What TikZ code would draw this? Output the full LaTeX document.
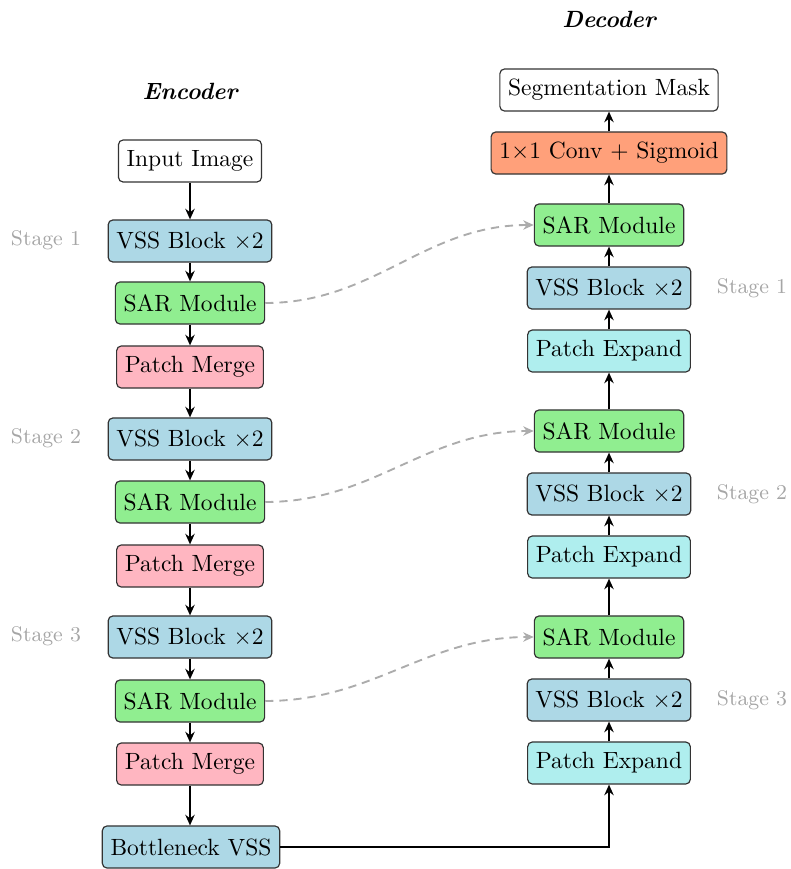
\documentclass[tikz,border=0pt]{standalone}
\usetikzlibrary{arrows.meta}
\definecolor{vsscol}{HTML}{ADD8E6}
\definecolor{sarcol}{HTML}{90EE90}
\definecolor{mergecol}{HTML}{FFB6C1}
\definecolor{expandcol}{HTML}{AFEEEE}
\definecolor{convcol}{HTML}{FFA07A}
\tikzset{
  blk/.style={draw=black!80, line width=0.5pt, rounded corners=2pt, minimum height=17.9pt, inner xsep=3.5pt, font=\normalsize},
  vss/.style={blk, fill=vsscol},
  sar/.style={blk, fill=sarcol},
  merge/.style={blk, fill=mergecol},
  expand/.style={blk, fill=expandcol},
  conv/.style={blk, fill=convcol},
  plain/.style={blk, fill=white},
  flow/.style={-{Stealth[length=4.5pt,width=4pt]}, line width=0.9pt},
  skip/.style={-{Stealth[length=4.5pt,width=4pt]}, line width=0.8pt, gray!65, dash pattern=on 3.5pt off 2.5pt},
  stagelbl/.style={text=gray!70, font=\small},
  title/.style={font=\bfseries\itshape}
}
\begin{document}
\begin{tikzpicture}[x=0.42553pt, y=-0.42553pt]
\useasboundingbox (0,0) rectangle (790,869);
% titles
\node[title] (enct) at (190,91) {Encoder};
\node[title] (dect) at (609,19) {Decoder};
% encoder
\node[plain] (in) at (190,161) {Input Image};
\node[vss] (e1v) at (190,241) {VSS Block $\times$2};
\node[sar] (e1s) at (190,303) {SAR Module};
\node[merge] (e1m) at (190,367) {Patch Merge};
\node[vss] (e2v) at (190,439) {VSS Block $\times$2};
\node[sar] (e2s) at (190,502) {SAR Module};
\node[merge] (e2m) at (190,566) {Patch Merge};
\node[vss] (e3v) at (190,637) {VSS Block $\times$2};
\node[sar] (e3s) at (190,701) {SAR Module};
\node[merge] (e3m) at (190,764) {Patch Merge};
\node[vss] (bn) at (191,847) {Bottleneck VSS};
% decoder
\node[plain] (out) at (609,90) {Segmentation Mask};
\node[conv] (conv) at (609,153) {1$\times$1 Conv + Sigmoid};
\node[sar] (d1s) at (609,225) {SAR Module};
\node[vss] (d1v) at (609,288) {VSS Block $\times$2};
\node[expand] (d1e) at (609,351) {Patch Expand};
\node[sar] (d2s) at (609,431) {SAR Module};
\node[vss] (d2v) at (609,494) {VSS Block $\times$2};
\node[expand] (d2e) at (609,557) {Patch Expand};
\node[sar] (d3s) at (609,637) {SAR Module};
\node[vss] (d3v) at (609,700) {VSS Block $\times$2};
\node[expand] (d3e) at (609,763) {Patch Expand};
% stage labels
\node[stagelbl] (s1l) at (46,240) {Stage 1};
\node[stagelbl] (s2l) at (46,438) {Stage 2};
\node[stagelbl] (s3l) at (46,636) {Stage 3};
\node[stagelbl] (s1r) at (752,288) {Stage 1};
\node[stagelbl] (s2r) at (752,494) {Stage 2};
\node[stagelbl] (s3r) at (752,700) {Stage 3};
% encoder flow
\draw[flow] (in) -- (e1v);
\draw[flow] (e1v) -- (e1s);
\draw[flow] (e1s) -- (e1m);
\draw[flow] (e1m) -- (e2v);
\draw[flow] (e2v) -- (e2s);
\draw[flow] (e2s) -- (e2m);
\draw[flow] (e2m) -- (e3v);
\draw[flow] (e3v) -- (e3s);
\draw[flow] (e3s) -- (e3m);
\draw[flow] (e3m) -- (e3m |- bn.north);
% bottleneck to decoder
\draw[flow] (bn.east) -| (d3e.south);
% decoder flow
\draw[flow] (d3e) -- (d3v);
\draw[flow] (d3v) -- (d3s);
\draw[flow] (d3s) -- (d2e);
\draw[flow] (d2e) -- (d2v);
\draw[flow] (d2v) -- (d2s);
\draw[flow] (d2s) -- (d1e);
\draw[flow] (d1e) -- (d1v);
\draw[flow] (d1v) -- (d1s);
\draw[flow] (d1s) -- (conv);
\draw[flow] (conv) -- (out);
% skip connections
\draw[skip] (e1s.east) to[out=0,in=180] (d1s.west);
\draw[skip] (e2s.east) to[out=0,in=180] (d2s.west);
\draw[skip] (e3s.east) to[out=0,in=180] (d3s.west);
\end{tikzpicture}
\end{document}
